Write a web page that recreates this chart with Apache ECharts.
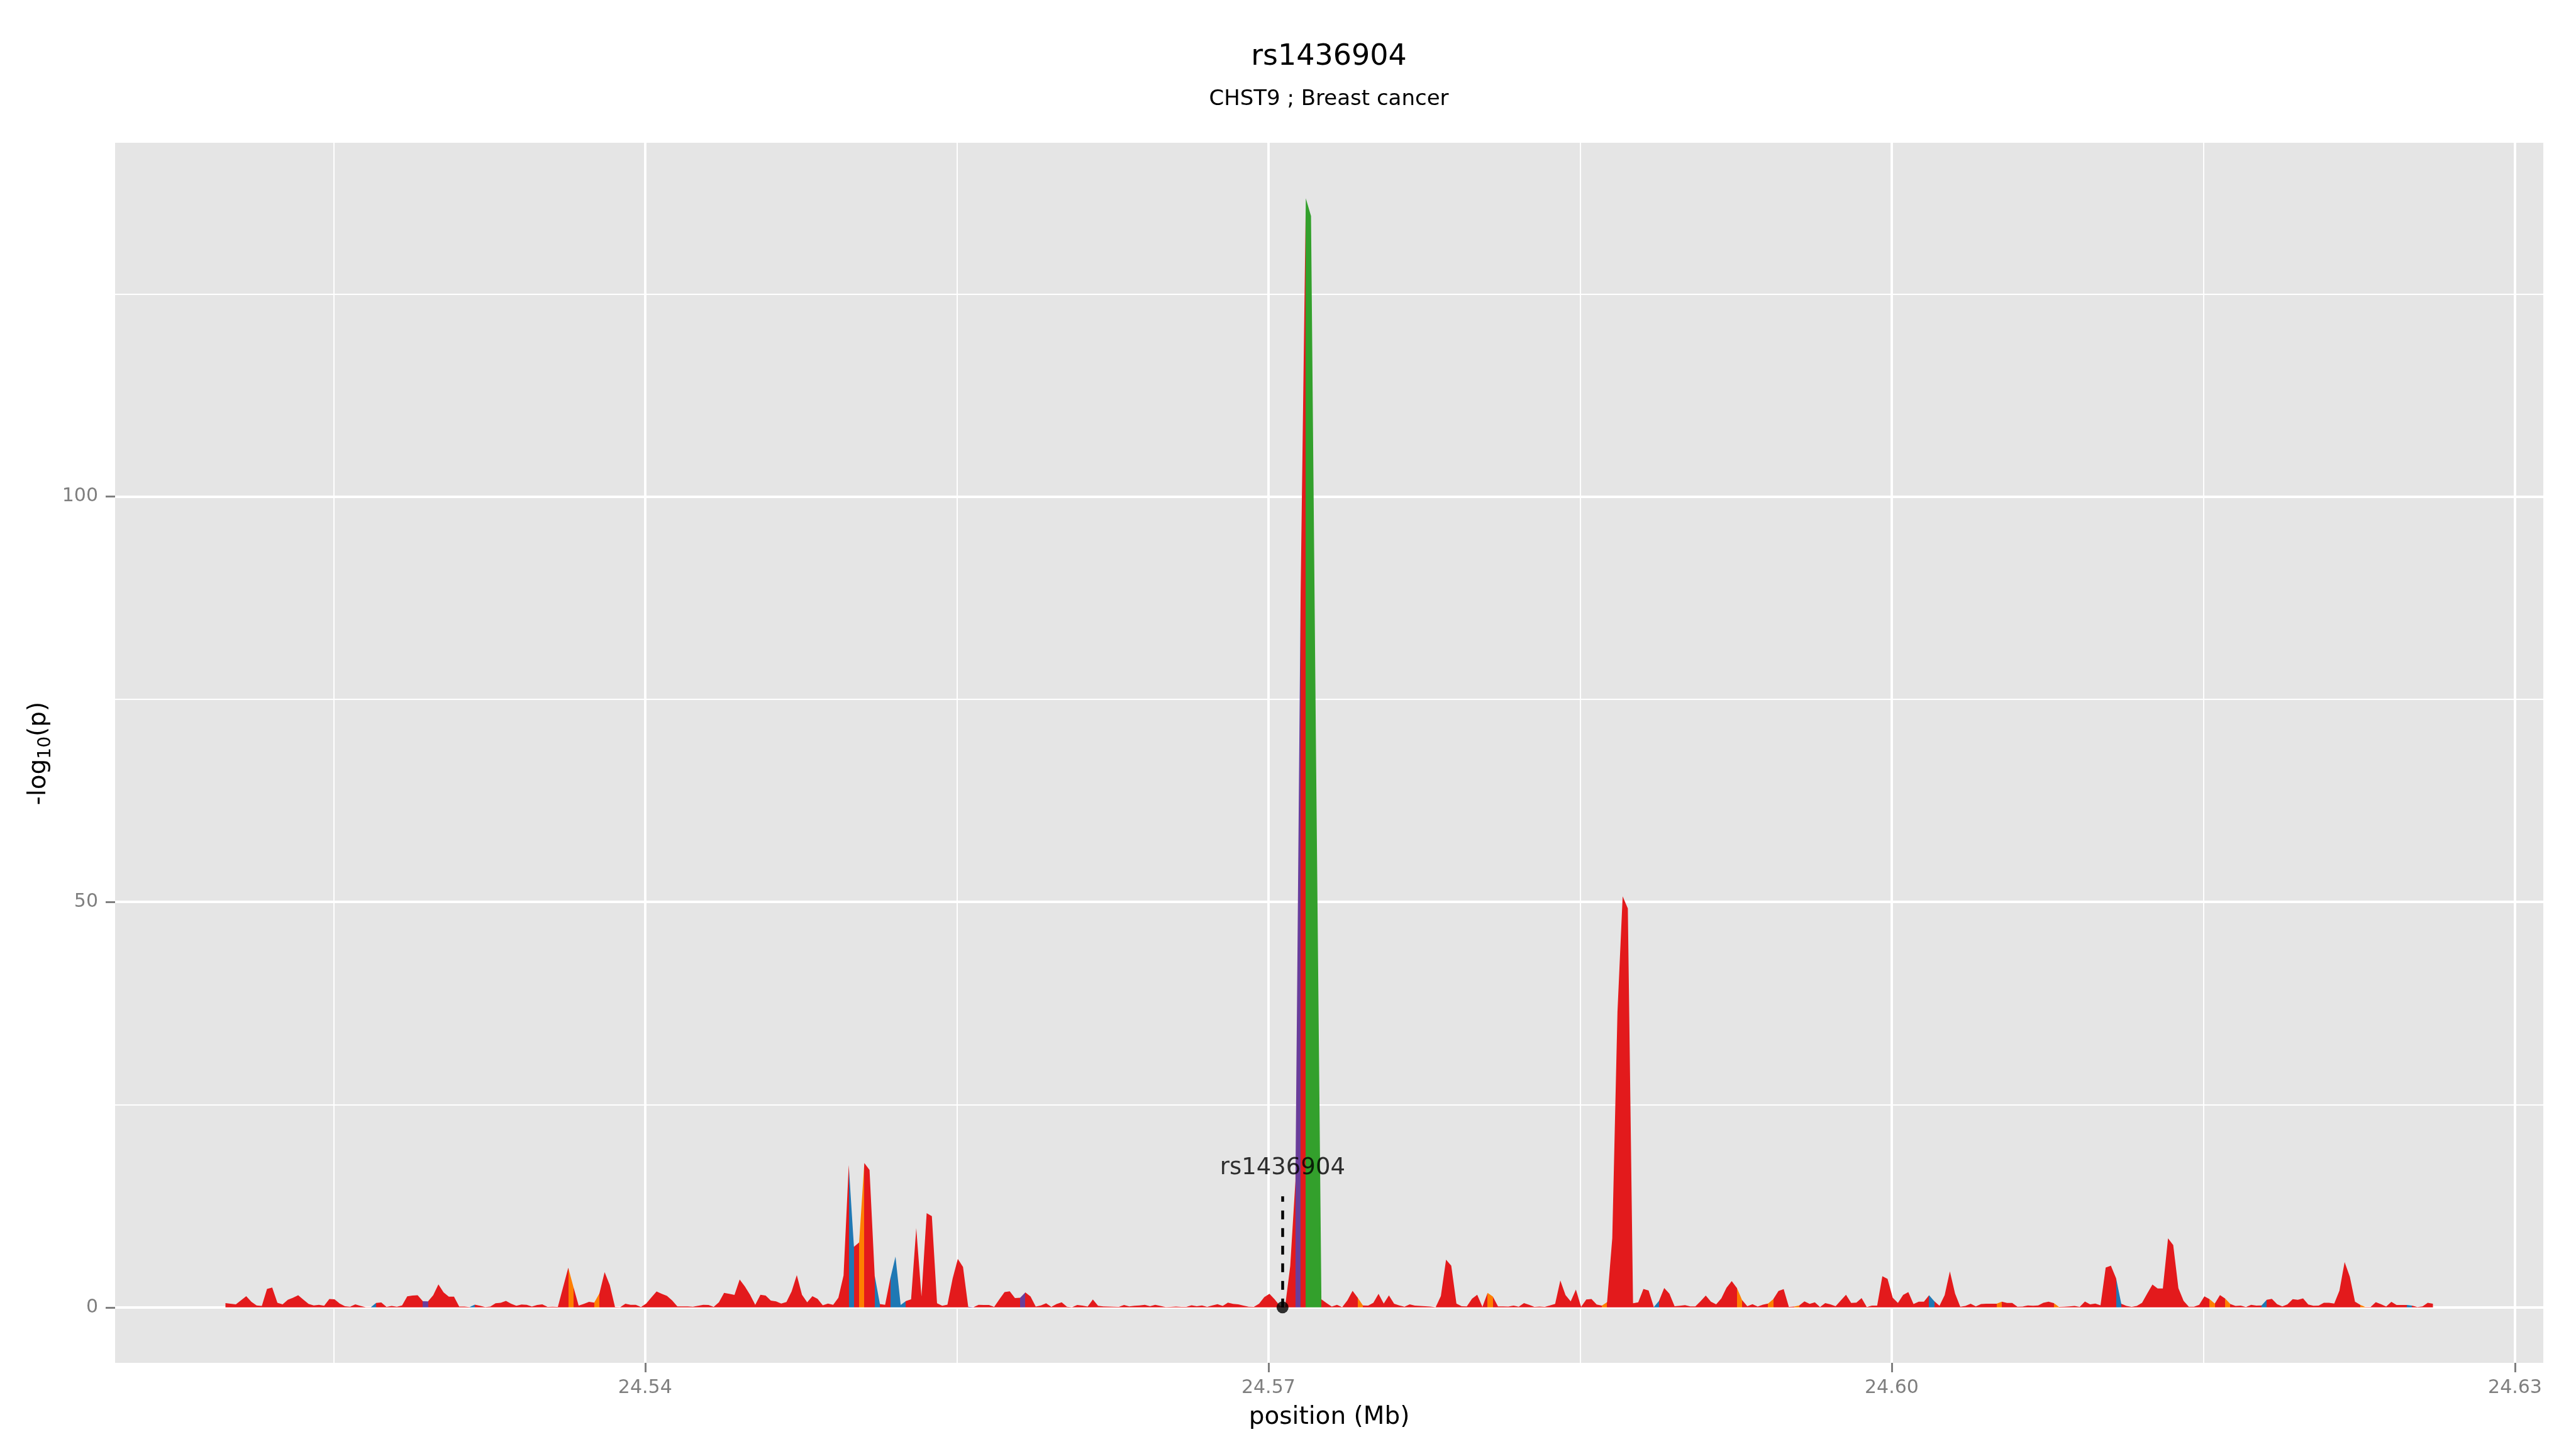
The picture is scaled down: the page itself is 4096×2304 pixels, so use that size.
<!DOCTYPE html>
<html lang="en">
<head>
<meta charset="UTF-8">
<title>rs1436904</title>
<script src="https://cdn.jsdelivr.net/npm/echarts@6/dist/echarts.min.js"></script>
<style>
    html, body { margin: 0; padding: 0; background: #fff; }
    #chart { width: 4096px; height: 2304px; }
</style>
</head>
<body>
<div id="chart"></div>
<script type="text/javascript">
    var chartTitle = 'rs1436904';
    var chartSubtitle = 'CHST9 ; Breast cancer';
    var snpName = 'rs1436904';
    var snpPos = 24.57068;      // Mb
    var snpLineTop = 13.7;      // top of the dashed pointer
    var snpLabelY = 17.2;

    // regular 250 bp grid
    var posStart = 24.5198;
    var posStep = 0.00025;

    // -log10(p) at each grid position
    var logp = [
        0.53, 0.46, 0.37, 0.88, 1.39, 0.68, 0.24, 0.18, 2.27, 2.44,
        0.57, 0.37, 0.93, 1.19, 1.50, 0.95, 0.44, 0.24, 0.31, 0.20,
        1.04, 0.99, 0.48, 0.15, 0.09, 0.37, 0.18, 0.02, 0.02, 0.55,
        0.60, 0.07, 0.18, 0.09, 0.24, 1.37, 1.45, 1.50, 0.77, 0.75,
        1.50, 2.84, 1.85, 1.32, 1.32, 0.11, 0.11, 0.04, 0.33, 0.20,
        0.04, 0.11, 0.51, 0.57, 0.81, 0.46, 0.20, 0.35, 0.31, 0.11,
        0.29, 0.37, 0.07, 0.09, 0.07, 2.49, 4.89, 2.51, 0.22, 0.44,
        0.68, 0.59, 1.74, 4.34, 2.73, 0.04, 0.02, 0.46, 0.31, 0.31,
        0.04, 0.48, 1.23, 1.96, 1.67, 1.43, 0.86, 0.13, 0.13, 0.13,
        0.09, 0.20, 0.31, 0.29, 0.07, 0.62, 1.78, 1.67, 1.54, 3.44,
        2.58, 1.56, 0.31, 1.56, 1.45, 0.84, 0.75, 0.48, 0.66, 1.96,
        3.99, 1.56, 0.62, 1.39, 1.06, 0.26, 0.48, 0.31, 1.19, 3.94,
        17.55, 7.47, 8.02, 17.81, 16.95, 3.88, 0.42, 0.31, 3.55, 6.26,
        0.29, 0.79, 1.00, 9.77, 1.34, 11.62, 11.26, 0.50, 0.20, 0.33,
        3.55, 5.97, 4.98, 0.09, 0.02, 0.31, 0.29, 0.29, 0.07, 0.99,
        1.89, 1.98, 1.15, 1.19, 1.85, 1.34, 0.11, 0.24, 0.51, 0.07,
        0.42, 0.62, 0.09, 0.02, 0.29, 0.22, 0.11, 0.97, 0.20, 0.13,
        0.11, 0.09, 0.07, 0.29, 0.13, 0.20, 0.24, 0.31, 0.15, 0.31,
        0.18, 0.04, 0.07, 0.11, 0.07, 0.07, 0.26, 0.15, 0.24, 0.07,
        0.24, 0.40, 0.18, 0.59, 0.44, 0.37, 0.22, 0.09, 0.07, 0.46,
        1.26, 1.67, 1.00, 0.20, 0.05, 5.10, 15.6, 88.0, 136.8, 134.6,
        66.0, 1.00, 0.53, 0.11, 0.31, 0.02, 0.86, 2.05, 1.19, 0.24,
        0.22, 0.57, 1.67, 0.48, 1.48, 0.46, 0.24, 0.09, 0.37, 0.22,
        0.18, 0.15, 0.11, 0.02, 1.41, 5.88, 5.15, 0.48, 0.15, 0.13,
        1.08, 1.56, 0.07, 1.78, 1.34, 0.13, 0.13, 0.11, 0.22, 0.09,
        0.53, 0.31, 0.07, 0.11, 0.07, 0.24, 0.44, 3.33, 1.52, 0.75,
        2.20, 0.07, 0.97, 1.04, 0.35, 0.22, 0.64, 8.54, 36.4, 50.7,
        49.2, 0.50, 0.62, 2.27, 2.08, 0.04, 0.80, 2.40, 1.69, 0.15,
        0.20, 0.27, 0.13, 0.13, 0.77, 1.45, 0.70, 0.37, 1.12, 2.42,
        3.24, 2.40, 0.90, 0.15, 0.40, 0.11, 0.33, 0.48, 1.01, 2.03,
        2.25, 0.07, 0.11, 0.24, 0.75, 0.44, 0.62, 0.04, 0.53, 0.37,
        0.15, 0.86, 1.56, 0.55, 0.59, 1.15, 0.04, 0.22, 0.22, 3.85,
        3.52, 1.19, 0.55, 1.54, 1.89, 0.42, 0.70, 0.70, 1.50, 0.77,
        0.20, 1.52, 4.45, 1.72, 0.09, 0.18, 0.46, 0.13, 0.42, 0.46,
        0.46, 0.46, 0.70, 0.55, 0.55, 0.09, 0.11, 0.24, 0.20, 0.24,
        0.57, 0.70, 0.53, 0.07, 0.09, 0.13, 0.18, 0.07, 0.73, 0.37,
        0.48, 0.26, 4.91, 5.15, 3.59, 0.46, 0.18, 0.07, 0.18, 0.57,
        1.72, 2.82, 2.33, 2.33, 8.52, 7.69, 2.38, 0.81, 0.09, 0.09,
        0.31, 1.37, 1.01, 0.48, 1.52, 1.10, 0.42, 0.18, 0.22, 0.04,
        0.31, 0.22, 0.24, 0.93, 1.06, 0.40, 0.13, 0.37, 1.01, 0.93,
        1.12, 0.35, 0.20, 0.22, 0.57, 0.57, 0.48, 2.07, 5.59, 3.79,
        0.70, 0.31, 0.04, 0.04, 0.64, 0.40, 0.11, 0.68, 0.29, 0.29,
        0.29, 0.22, 0.04, 0.13, 0.57, 0.46
    ];

    // segments (between point i and i+1) that are not red
    var blueSegs = [28, 47, 120, 125, 128, 129, 130, 275, 328, 364, 392, 420];
    var orangeSegs = [66, 71, 122, 218, 243, 265, 291, 297, 302, 341, 352, 382, 385, 411];
    var purpleSegs = [38, 143, 153, 206];
    var greenSegs = [208, 209, 210];

    var xMajor = [24.54, 24.57, 24.60, 24.63];
    var xMinor = [24.525, 24.555, 24.585, 24.615];
    var yMajor = [0, 50, 100];
    var yMinor = [25, 75, 125];

    var colRed = '#E31A1C', colBlue = '#1F78B4', colOrange = '#FF7F00',
        colPurple = '#6A3D9A', colGreen = '#33A02C';
    var font = 'DejaVu Sans';

    var positions = logp.map(function (v, i) {
        return +(posStart + i * posStep).toFixed(5);
    });
    var areaData = logp.map(function (v, i) { return [positions[i], v]; });

    var pieces = [];
    function addSegs(list, color) {
        list.forEach(function (s) {
            pieces.push({ gte: positions[s], lt: positions[s + 1], color: color });
        });
    }
    addSegs(blueSegs, colBlue);
    addSegs(orangeSegs, colOrange);
    addSegs(purpleSegs, colPurple);
    addSegs(greenSegs, colGreen);
    pieces.sort(function (a, b) { return a.gte - b.gte; });

    // ggplot style 5% expansion
    var xLo = positions[0], xHi = positions[positions.length - 1];
    var xPad = (xHi - xLo) * 0.05;
    var yHi = Math.max.apply(null, logp);
    var yPad = yHi * 0.05;

    var gridLines = [];
    xMinor.forEach(function (v) { gridLines.push({ xAxis: v, lineStyle: { width: 1.9 } }); });
    yMinor.forEach(function (v) { gridLines.push({ yAxis: v, lineStyle: { width: 1.9 } }); });
    xMajor.forEach(function (v) { gridLines.push({ xAxis: v, lineStyle: { width: 3.8 } }); });
    yMajor.forEach(function (v) { gridLines.push({ yAxis: v, lineStyle: { width: 3.8 } }); });

    var myChart = echarts.init(document.getElementById('chart'));
    var option = {
        animation: false,
        backgroundColor: '#ffffff',
        grid: {
            left: 183, right: 52, top: 227, bottom: 137,
            show: true,
            backgroundColor: '#E5E5E5',
            borderWidth: 0,
            outerBoundsMode: 'none'
        },
        graphic: [
            {
                type: 'text', x: 2113, y: 91,
                style: {
                    text: chartTitle, fill: '#000',
                    font: '46px "' + font + '"',
                    textAlign: 'center', textVerticalAlign: 'middle'
                }
            },
            {
                type: 'text', x: 2113, y: 158,
                style: {
                    text: chartSubtitle, fill: '#000',
                    font: '34px "' + font + '"',
                    textAlign: 'center', textVerticalAlign: 'middle'
                }
            },
            {
                type: 'text', x: 62, y: 1198, rotation: Math.PI / 2,
                style: {
                    text: '{a|-log}{b|10}{a|(p)}',
                    textAlign: 'center', textVerticalAlign: 'middle',
                    rich: {
                        a: { fontSize: 39, fontFamily: font, color: '#000', lineHeight: 50 },
                        b: { fontSize: 28, fontFamily: font, color: '#000', lineHeight: 28, verticalAlign: 'bottom' }
                    }
                }
            }
        ],
        visualMap: {
            type: 'piecewise',
            show: false,
            dimension: 0,
            seriesIndex: 0,
            pieces: pieces,
            outOfRange: { color: colRed }
        },
        xAxis: {
            type: 'value',
            min: xLo - xPad,
            max: xHi + xPad,
            splitLine: { show: false },
            axisLine: { show: false, onZero: false },
            axisTick: {
                show: true, customValues: xMajor, length: 15,
                lineStyle: { color: '#7f7f7f', width: 3 }
            },
            axisLabel: {
                customValues: xMajor,
                formatter: function (v) { return v.toFixed(2); },
                margin: 25, fontSize: 30, color: '#7f7f7f', fontFamily: font
            },
            name: 'position (Mb)',
            nameLocation: 'middle',
            nameGap: 67,
            nameTextStyle: { fontSize: 39, color: '#000', fontFamily: font }
        },
        yAxis: {
            type: 'value',
            min: -yPad,
            max: yHi + yPad,
            splitLine: { show: false },
            axisLine: { show: false, onZero: false },
            axisTick: {
                show: true, customValues: yMajor, length: 15,
                lineStyle: { color: '#7f7f7f', width: 3 }
            },
            axisLabel: {
                customValues: yMajor,
                margin: 27, fontSize: 30, color: '#7f7f7f', fontFamily: font
            }
        },
        series: [
            {
                name: '-log10(p)',
                type: 'line',
                data: areaData,
                showSymbol: false,
                symbol: 'none',
                lineStyle: { width: 0 },
                areaStyle: { opacity: 1 },
                z: 2,
                markLine: {
                    silent: true,
                    z: 1,
                    precision: 5,
                    symbol: ['none', 'none'],
                    label: { show: false },
                    lineStyle: { color: '#ffffff', type: 'solid' },
                    data: gridLines
                }
            },
            {
                name: snpName,
                type: 'scatter',
                data: [[snpPos, 0]],
                symbolSize: 19,
                itemStyle: { color: '#000' },
                z: 4,
                markLine: {
                    silent: true,
                    precision: 5,
                    symbol: ['none', 'none'],
                    label: { show: false },
                    lineStyle: { color: '#000', width: 4.5, type: [14, 14] },
                    data: [[{ coord: [snpPos, 0] }, { coord: [snpPos, snpLineTop] }]]
                }
            },
            {
                name: 'label',
                type: 'scatter',
                data: [[snpPos, snpLabelY]],
                symbolSize: 0,
                itemStyle: { color: 'rgba(0,0,0,0)' },
                z: 5,
                label: {
                    show: true,
                    position: 'inside',
                    formatter: snpName,
                    fontSize: 37,
                    color: '#000',
                    fontFamily: font
                }
            }
        ]
    };
    myChart.setOption(option);
</script>
</body>
</html>
